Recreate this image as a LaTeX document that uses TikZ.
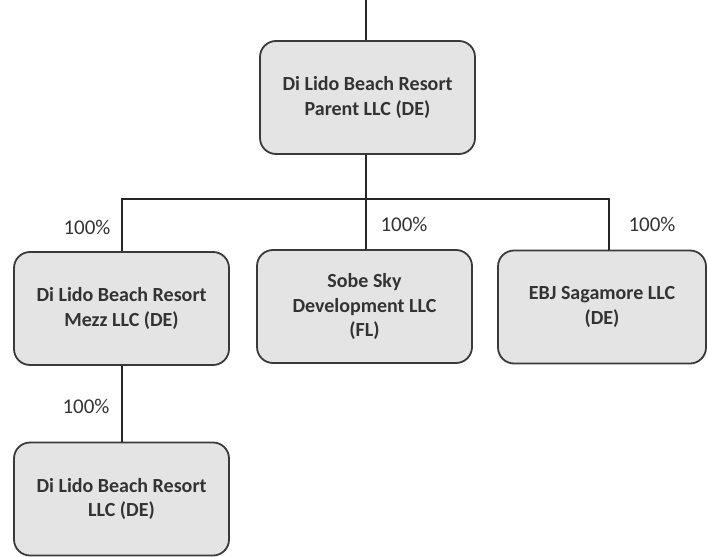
\documentclass[tikz,border=0pt]{standalone}
\usepackage{fontspec}
\setmainfont{Carlito}
\definecolor{boxfill}{HTML}{E4E4E4}
\definecolor{boxline}{HTML}{3A3A3A}
\definecolor{inkgray}{HTML}{333333}

\tikzstyle{entity} = [rectangle, rounded corners = 16pt, draw = boxline, line width = 1.8pt, fill = boxfill, minimum width = 215pt, minimum height = 113pt, align = center, text = inkgray, font = \fontsize{20}{24.5}\selectfont\bfseries]
\tikzstyle{share} = [text = inkgray, font = \fontsize{21}{25}\selectfont]
\tikzstyle{link} = [draw = black!85, line width = 1.8pt]

\begin{document}
\begin{tikzpicture}[x = 1pt, y = -1pt]
			\useasboundingbox (0,0) rectangle (708,556);
			\node[entity] (parent) at (367.5,97.5) {Di Lido Beach Resort\\Parent LLC (DE)};
			\node[entity] (mezz) at (121.5,308.5) {Di Lido Beach Resort\\Mezz LLC (DE)};
			\node[entity] (sobe) at (364.5,306.5) {Sobe Sky\\Development LLC\\(FL)};
			\node[entity, minimum width = 208pt] (ebj) at (602,307) {EBJ Sagamore LLC\\(DE)};
			\node[entity] (resort) at (121.5,499) {Di Lido Beach Resort\\LLC (DE)};
			% ownership lines
			\coordinate (top) at (366,0);
			\coordinate (bus) at (366,199);
			\coordinate (busL) at (122,199);
			\coordinate (busR) at (609,199);
			\path[link] (top) -- (top |- parent.north);
			\path[link] (bus |- parent.south) -- (bus);
			\path[link] (busL |- mezz.north) -- (busL) -- (busR) -- (busR |- ebj.north);
			\path[link] (bus) -- (bus |- sobe.north);
			\path[link] (busL |- mezz.south) -- (busL |- resort.north);
			% percentages
			\node[share] (pctMezz) at (87,227) {100\%};
			\node[share] (pctSobe) at (404,224) {100\%};
			\node[share] (pctEbj) at (652,224) {100\%};
			\node[share] (pctResort) at (86,406) {100\%};
		\end{tikzpicture}
\end{document}
